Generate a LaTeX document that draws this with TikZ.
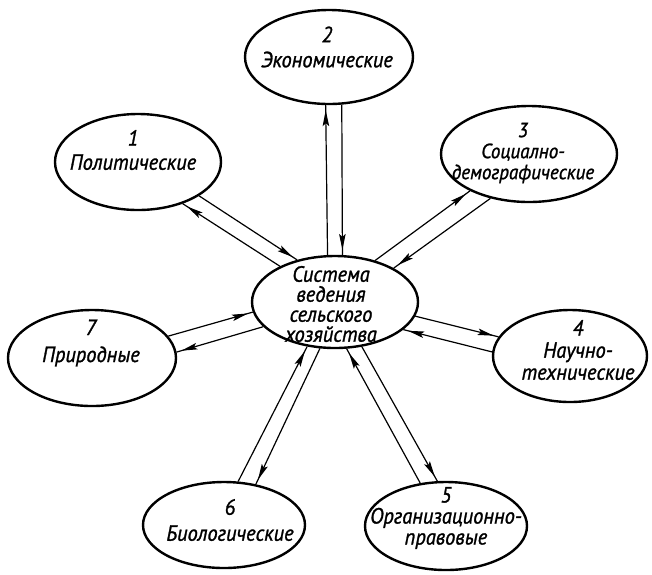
\documentclass[tikz,border=0pt]{standalone}
\usepackage{fontspec}
\newfontfamily\gost{PT Sans Italic}[FakeStretch=0.93, FakeBold=1.2]
\usetikzlibrary{shapes.geometric,arrows.meta,decorations.markings}
\begin{document}
\begin{tikzpicture}[x=1pt,y=-1pt,
  ell/.style={draw, ellipse, line width=2.4pt, inner sep=0pt},
  lbl/.style={font=\gost\fontsize{22}{24}\selectfont, align=center, inner sep=0pt},
  conn/.style={line width=1.2pt},
  arr/.style={conn, decoration={markings, mark=at position -5pt with {\arrow{Stealth[length=16pt,width=6.5pt,inset=3pt]}}}, postaction={decorate}}]
\useasboundingbox (0,0) rectangle (652,574);
% ellipses
\node[ell, minimum width=166pt, minimum height=92pt] (c) at (335,302) {};
\node[ell, minimum width=168pt, minimum height=94pt] (n2) at (329,57) {};
\node[ell, minimum width=166pt, minimum height=96pt] (n1) at (138,162) {};
\node[ell, minimum width=176pt, minimum height=96pt] (n3) at (529,154) {};
\node[ell, minimum width=154pt, minimum height=92pt] (n4) at (570,356) {};
\node[ell, minimum width=162pt, minimum height=88pt] (n5) at (446,526) {};
\node[ell, minimum width=162pt, minimum height=86pt] (n6) at (224,525) {};
\node[ell, minimum width=168pt, minimum height=96pt] (n7) at (92,358) {};
% texts
\node[lbl] (tc) at (331,304) {Система\\[-4pt]ведения\\[-4pt]сельского\\[-4pt]хозяйства};
\node[lbl] (t2) at (327,47) {2\\[1pt]Экономические};
\node[lbl] (t1) at (133,150) {1\\Политические};
\node[lbl, font=\gost\fontsize{20.5}{21}\selectfont] (t3) at (523,153) {3\\Социално-\\демографические};
\node[lbl] (t4) at (578,350) {4\\[-2pt]Научно-\\[-2pt]технические};
\node[lbl] (t5) at (446,518) {5\\[-3pt]Организационно-\\[-3pt]правовые};
\node[lbl] (t6) at (230,520) {6\\[2pt]Биологические};
\node[lbl] (t7) at (91,343) {7\\[3pt]Природные};
% connectors
\draw[arr] (n1.331.3) -- (c.132.9);
\draw[arr] (c.147.5) -- (n1.317.7);
\draw[arr] (c.99.9) -- (n2.266.3);
\draw[arr] (n2.285.5) -- (c.81.3);
\draw[arr] (c.46.5) -- (n3.212.6);
\draw[arr] (n3.229.1) -- (c.30.4);
\draw[arr] (c.350.4) -- (n4.165.4);
\draw[arr] (n4.177.8) -- (c.338.2);
\draw[arr] (n5.121.2) -- (c.284.9);
\draw[arr] (c.301.5) -- (n5.101.6);
\draw[arr] (n6.72.8) -- (c.238.6);
\draw[arr] (c.252.4) -- (n6.52.2);
\draw[arr] (n7.16.4) -- (c.187.0);
\draw[arr] (c.199.8) -- (n7.4.8);
\end{tikzpicture}
\end{document}
